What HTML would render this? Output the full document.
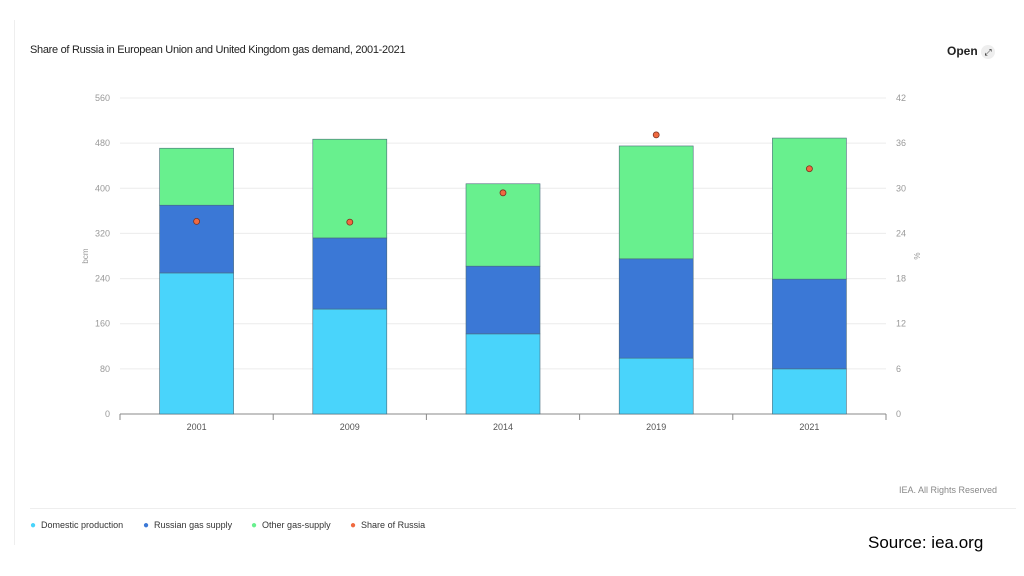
<!DOCTYPE html>
<html><head><meta charset="utf-8"><style>
body{margin:0;width:1024px;height:576px;background:#fff;font-family:"Liberation Sans",sans-serif;position:relative;overflow:hidden}
.t{position:absolute;white-space:nowrap}
.lg{position:absolute;top:520px;font-size:9px;color:#333;white-space:nowrap}
.lg b{font-size:10px}
</style></head><body>
<div style="position:absolute;left:14px;top:20px;width:1px;height:525px;background:#eee"></div>
<div class="t" style="left:30px;top:44px;font-size:11px;color:#222;letter-spacing:-0.3px">Share of Russia in European Union and United Kingdom gas demand, 2001-2021</div>
<div class="t" style="left:947px;top:44px;font-size:12px;font-weight:bold;color:#222">Open <span style="display:inline-block;width:14px;height:14px;border-radius:7px;background:#eee;font-size:9px;text-align:center;line-height:14px;font-weight:normal">⤢</span></div>
<svg id="c" width="1024" height="576" style="position:absolute;left:0;top:0"></svg>
<div class="t" style="left:899px;top:485px;font-size:9px;color:#888">IEA. All Rights Reserved</div>
<div style="position:absolute;left:30px;top:508px;width:986px;height:1px;background:#eee"></div>
<div class="lg" style="left:30px"><b style="color:#49d4fb">●</b>&nbsp; Domestic production</div>
<div class="lg" style="left:143px"><b style="color:#3b78d6">●</b>&nbsp; Russian gas supply</div>
<div class="lg" style="left:251px"><b style="color:#68f08e">●</b>&nbsp; Other gas-supply</div>
<div class="lg" style="left:350px"><b style="color:#f06a40">●</b>&nbsp; Share of Russia</div>
<div class="t" style="left:868px;top:533px;font-size:17px;color:#000">Source: iea.org</div>
<script>
const years=["2001","2009","2014","2019","2021"];
const domestic=[250,186,142,99,80];
const russian=[120,126,120,176,159];
const other=[101,175,146,200,250];
const share=[25.6,25.5,29.4,37.1,32.6];
const leftTicks=[0,80,160,240,320,400,480,560];
const rightTicks=[0,6,12,18,24,30,36,42];
const svg=document.getElementById('c');const NS='http://www.w3.org/2000/svg';
function mk(t,a,txt){const e=document.createElementNS(NS,t);for(const k in a)e.setAttribute(k,a[k]);if(txt!==undefined)e.textContent=txt;svg.appendChild(e);return e;}
const y0=414,y1=98,xL=120,xR=886;
const yL=v=>y0-(v/560)*(y0-y1);
const yR=v=>y0-(v/42)*(y0-y1);
const band=(xR-xL)/years.length;
const xc=i=>xL+band*(i+0.5);
leftTicks.forEach(v=>{
 const g=mk('line',{x1:xL,x2:xR,y1:yL(v),y2:yL(v),stroke:v?'#ececec':'#888','stroke-width':1});
 
 const t=mk('text',{x:110,y:yL(v)+3,'font-size':9,fill:'#999','text-anchor':'end','font-family':'Liberation Sans'},v);
 
});
rightTicks.forEach(v=>{
 const t=mk('text',{x:896,y:yR(v)+3,'font-size':9,fill:'#999','font-family':'Liberation Sans'},v);
 
});
let a=mk('text',{x:88,y:256,'font-size':8,fill:'#999',transform:'rotate(-90 88 256)','text-anchor':'middle','font-family':'Liberation Sans'},'bcm');

a=mk('text',{x:914,y:256,'font-size':8,fill:'#999',transform:'rotate(90 914 256)','text-anchor':'middle','font-family':'Liberation Sans'},'%');

for(let i=0;i<=years.length;i++){const l=mk('line',{x1:xL+band*i,x2:xL+band*i,y1:y0,y2:y0+6,stroke:'#888'});}
const bw=74;
years.forEach((yr,i)=>{
 const x=xc(i)-bw/2;let base=0;
 [[domestic,'#49d4fb','domestic'],[russian,'#3b78d6','russian'],[other,'#68f08e','other']].forEach(([arr,c,n])=>{
  const v=arr[i];const r=mk('rect',{x:x,y:yL(base+v),width:bw,height:yL(base)-yL(base+v),fill:c,stroke:'#4a6a7a','stroke-width':0.6});
  base+=v;});
 const t=mk('text',{x:xc(i),y:430,'font-size':9,fill:'#555','text-anchor':'middle','font-family':'Liberation Sans'},yr);
 
 const p=mk('circle',{cx:xc(i),cy:yR(share[i]),r:3,fill:'#f06a40',stroke:'#7a3020','stroke-width':0.8});
 
});
</script>
</body></html>
